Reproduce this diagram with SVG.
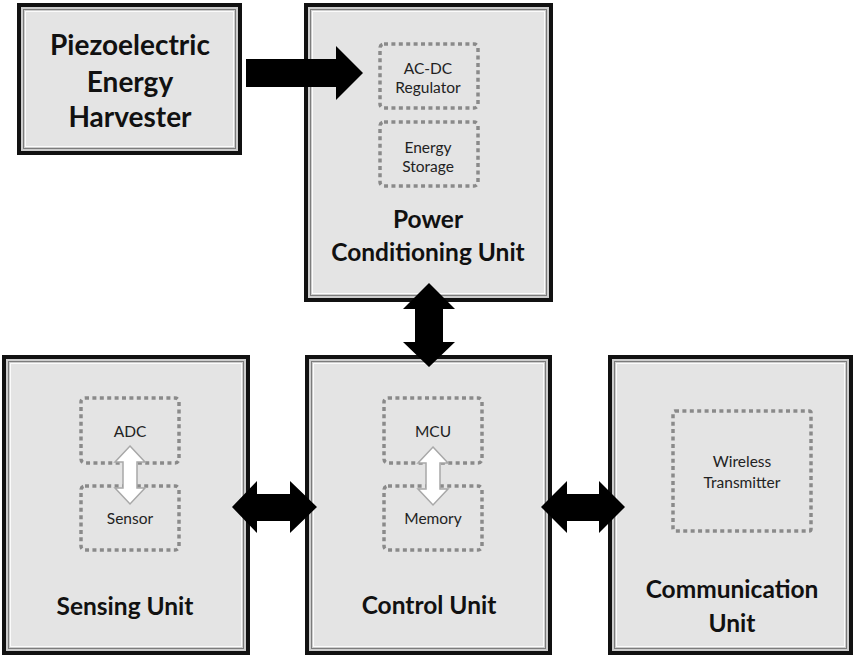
<svg xmlns="http://www.w3.org/2000/svg" width="855" height="657" viewBox="0 0 855 657">
<style>
.b0{fill:#111}
.b1{fill:#cdcdcd}
.b2{fill:none;stroke:#7c7c7c;stroke-width:1}
.b3{fill:#e4e4e4;stroke:#fbfbfb;stroke-width:1}
.dot{fill:none;stroke:#8a8a8a;stroke-width:3.5;stroke-dasharray:4 3.4}
.big{font-family:Lato,"Open Sans",sans-serif;font-weight:bold;fill:#111;text-anchor:middle}
.sm{font-family:Lato,"Open Sans",sans-serif;font-size:15.5px;fill:#222;text-anchor:middle}
.blk{fill:#000}
.wht{fill:#fff;stroke:#a8a8a8;stroke-width:1.5}
</style>
<rect width="855" height="657" fill="#fff"/>
<g id="piezo">
<rect class="b0" x="17" y="3" width="225" height="152"/>
<rect class="b1" x="21" y="7" width="217" height="144"/>
<rect class="b2" x="23.5" y="9.5" width="212" height="139"/>
<rect class="b3" x="25.5" y="11.5" width="208" height="135"/>
<text class="big" font-size="28" x="130" y="55">Piezoelectric</text>
<text class="big" font-size="28" x="130" y="92">Energy</text>
<text class="big" font-size="28" x="130" y="127">Harvester</text>
</g>
<g id="power">
<rect class="b0" x="304" y="3" width="249" height="299"/>
<rect class="b1" x="308" y="7" width="241" height="291"/>
<rect class="b2" x="310.5" y="9.5" width="236" height="286"/>
<rect class="b3" x="312.5" y="11.5" width="232" height="282"/>
<g id="acdc"><rect class="dot" x="380" y="44" width="98" height="64" rx="4"/>
<text class="sm" x="428" y="74">AC-DC</text><text class="sm" x="428" y="93">Regulator</text></g>
<g id="storage"><rect class="dot" x="380" y="122" width="98" height="64" rx="4"/>
<text class="sm" x="428" y="153">Energy</text><text class="sm" x="428" y="172">Storage</text></g>
<text class="big" font-size="24.5" x="428" y="228">Power</text>
<text class="big" font-size="24.5" x="428" y="261">Conditioning Unit</text>
</g>
<g id="sensing">
<rect class="b0" x="2" y="355" width="248" height="300"/>
<rect class="b1" x="6" y="359" width="240" height="292"/>
<rect class="b2" x="8.5" y="361.5" width="235" height="287"/>
<rect class="b3" x="10.5" y="363.5" width="231" height="283"/>
<g id="adc"><rect class="dot" x="81" y="398" width="98" height="65" rx="4"/><text class="sm" x="130" y="437">ADC</text></g>
<g id="sensor"><rect class="dot" x="81" y="486" width="98" height="64" rx="4"/><text class="sm" x="130" y="524">Sensor</text></g>
<text class="big" font-size="24.5" x="125" y="615">Sensing Unit</text>
</g>
<g id="control">
<rect class="b0" x="305" y="355" width="247" height="300"/>
<rect class="b1" x="309" y="359" width="239" height="292"/>
<rect class="b2" x="311.5" y="361.5" width="234" height="287"/>
<rect class="b3" x="313.5" y="363.5" width="230" height="283"/>
<g id="mcu"><rect class="dot" x="384" y="398" width="98" height="65" rx="4"/><text class="sm" x="433" y="437">MCU</text></g>
<g id="memory"><rect class="dot" x="384" y="486" width="98" height="64" rx="4"/><text class="sm" x="433" y="524">Memory</text></g>
<text class="big" font-size="24.5" x="429" y="614">Control Unit</text>
</g>
<g id="comm">
<rect class="b0" x="608" y="355" width="245" height="300"/>
<rect class="b1" x="612" y="359" width="237" height="292"/>
<rect class="b2" x="614.5" y="361.5" width="232" height="287"/>
<rect class="b3" x="616.5" y="363.5" width="228" height="283"/>
<g id="wireless"><rect class="dot" x="673" y="411" width="138" height="120" rx="2"/>
<text class="sm" x="742" y="467">Wireless</text><text class="sm" x="742" y="488">Transmitter</text></g>
<text class="big" font-size="24.5" x="732" y="598">Communication</text>
<text class="big" font-size="24.5" x="732" y="632">Unit</text>
</g>
<g id="connectors">
<polygon class="blk" points="246,59 336,59 336,46 363,73 336,100 336,87 246,87"/>
<polygon class="blk" points="429,283 455,309 443,309 443,342 455,342 429,367 403,342 415,342 415,309 403,309"/>
<polygon class="blk" points="232,507 257,481 257,494 290,494 290,481 317,507 290,533 290,521 257,521 257,533"/>
<polygon class="blk" points="541,507 567,481 567,494 599,494 599,481 625,507 599,533 599,521 567,521 567,533"/>
<polygon class="wht" points="130,446 145,462 137,462 137,488 145,488 130,504 115,488 123,488 123,462 115,462"/>
<polygon class="wht" points="433,447 448,463 440,463 440,489 448,489 433,505 418,489 426,489 426,463 418,463"/>
</g>
</svg>
